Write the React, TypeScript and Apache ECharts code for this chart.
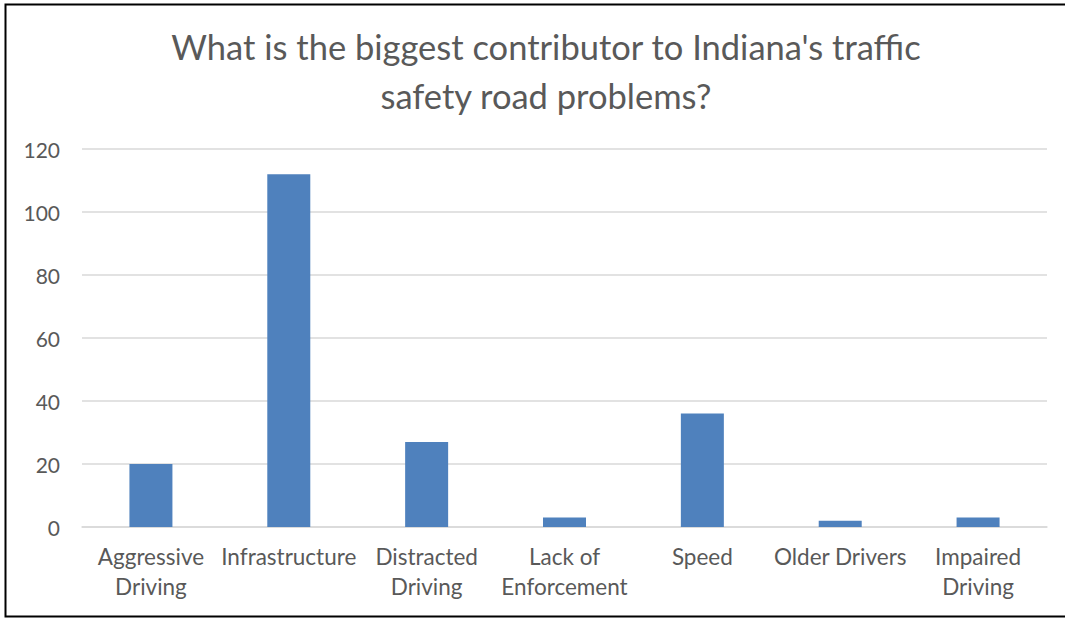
import React, { useEffect, useRef } from "react";
import * as echarts from "echarts";

const categories = [
  "Aggressive\nDriving",
  "Infrastructure",
  "Distracted\nDriving",
  "Lack of\nEnforcement",
  "Speed",
  "Older Drivers",
  "Impaired\nDriving",
];
const values = [20, 112, 27, 3, 36, 2, 3];
const titleText = "What is the biggest contributor to Indiana's traffic\nsafety road problems?";

const FONT = "Lato, 'Open Sans', sans-serif";

export default function App() {
  const ref = useRef<HTMLDivElement>(null);
  useEffect(() => {
    document.body.style.margin = "0";
    const chart = echarts.init(ref.current!, null, { renderer: "svg" });
    chart.setOption({
      animation: false,
      backgroundColor: "#ffffff",
      title: {
        text: titleText,
        left: 541,
        top: 17,
        textAlign: "center",
        textStyle: {
          fontFamily: FONT,
          fontSize: 34.5,
          fontWeight: "normal",
          color: "#595959",
          lineHeight: 49,
        },
      },
      grid: { left: 82, right: 18, top: 149, bottom: 92 },
      xAxis: {
        type: "category",
        data: categories,
        axisLine: { lineStyle: { color: "#D9D9D9", width: 1.5 } },
        axisTick: { show: false },
        axisLabel: {
          interval: 0,
          margin: 14,
          fontFamily: FONT,
          fontSize: 22.5,
          lineHeight: 30,
          color: "#595959",
        },
      },
      yAxis: {
        type: "value",
        min: 0,
        max: 120,
        interval: 20,
        axisLine: { show: false },
        axisTick: { show: false },
        splitLine: { lineStyle: { color: "#D9D9D9", width: 1.5 } },
        axisLabel: {
          margin: 22,
          fontFamily: FONT,
          fontSize: 21,
          color: "#595959",
        },
      },
      series: [
        {
          type: "bar",
          data: values,
          barWidth: 43,
          itemStyle: { color: "#4F81BD" },
        },
      ],
      graphic: [
        {
          type: "polyline",
          shape: { points: [[1075, 4.5], [5.5, 4.5], [5.5, 616.5], [1075, 616.5]] },
          style: { stroke: "#000000", lineWidth: 2, fill: null },
          silent: true,
        },
      ],
    });
    return () => chart.dispose();
  }, []);
  return <div ref={ref} style={{ width: 1065, height: 619 }} />;
}
